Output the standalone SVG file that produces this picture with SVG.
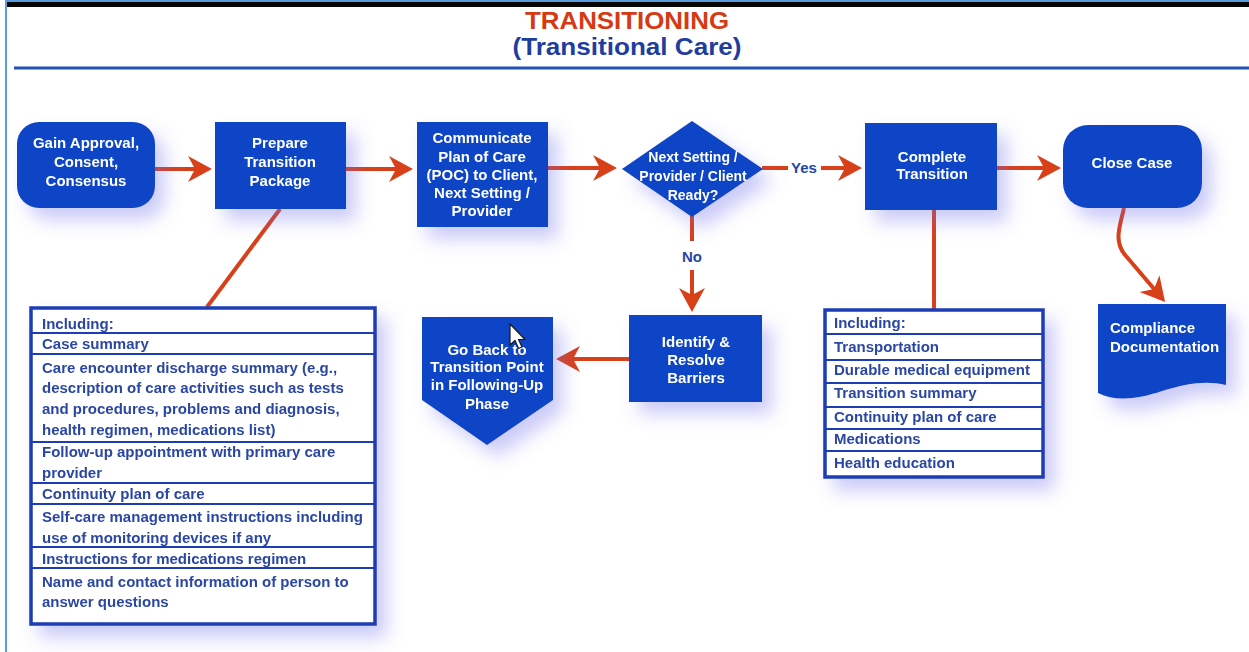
<svg xmlns="http://www.w3.org/2000/svg" width="1249" height="652" viewBox="0 0 1249 652">
  <defs>
    <style>
      .node { fill: #0d45c6; }
      .lbl { font-family: "Liberation Sans", Arial, sans-serif; font-weight: bold; font-size: 15px; fill: #ffffff; text-anchor: middle; }
      .dlbl { font-size: 14px; }
      .list-box { fill: #ffffff; stroke: #1a3db5; stroke-width: 3.5; }
      .sep { stroke: #1a3db5; stroke-width: 2; }
      .item { font-family: "Liberation Sans", Arial, sans-serif; font-weight: bold; font-size: 15px; fill: #2b46a3; }
      .wire { fill: none; stroke: #d8401a; stroke-width: 4; }
      .tag { font-family: "Liberation Sans", Arial, sans-serif; font-weight: bold; font-size: 15px; fill: #2545a8; text-anchor: middle; }
      .head { font-family: "Liberation Sans", Arial, sans-serif; font-weight: bold; text-anchor: middle; }
    </style>
    <filter id="glow" x="-30%" y="-30%" width="170%" height="180%">
      <feDropShadow dx="10" dy="12" stdDeviation="9" flood-color="#6b6bea" flood-opacity="0.35"/>
    </filter>
    <marker id="arr" viewBox="-16 -14 28 28" markerWidth="28" markerHeight="28" refX="0" refY="0" orient="auto" markerUnits="userSpaceOnUse">
      <path d="M10,0 L-14,-13 L-7,0 L-14,13 Z" fill="#d8401a"/>
    </marker>
  </defs>

  <!-- page frame -->
  <rect x="0" y="0" width="1249" height="652" fill="#ffffff"/>
  <rect x="6" y="1" width="1250" height="660" fill="none" stroke="#5b9be0" stroke-width="2"/>
  <rect x="7" y="2" width="1242" height="5" fill="#050505"/>
  <line x1="14" y1="68" x2="1249" y2="68" stroke="#2452b8" stroke-width="3"/>

  <!-- title -->
  <g id="title">
    <text class="head" x="627" y="29" font-size="24" fill="#d63a12" textLength="204" lengthAdjust="spacingAndGlyphs">TRANSITIONING</text>
    <text class="head" x="627" y="55" font-size="23" fill="#1f3d9e" textLength="229" lengthAdjust="spacingAndGlyphs">(Transitional Care)</text>
  </g>

  <!-- connectors -->
  <g id="connectors">
    <line class="wire" x1="155" y1="169" x2="202" y2="169" marker-end="url(#arr)"/>
    <line class="wire" x1="346" y1="169" x2="403" y2="169" marker-end="url(#arr)"/>
    <line class="wire" x1="548" y1="168" x2="607" y2="168" marker-end="url(#arr)"/>
    <line class="wire" x1="762" y1="168" x2="788" y2="168"/>
    <text class="tag" x="804" y="173">Yes</text>
    <line class="wire" x1="821" y1="168" x2="852" y2="168" marker-end="url(#arr)"/>
    <line class="wire" x1="692" y1="216" x2="692" y2="241"/>
    <text class="tag" x="692" y="262">No</text>
    <line class="wire" x1="692" y1="270" x2="692" y2="302" marker-end="url(#arr)"/>
    <line class="wire" x1="629" y1="359" x2="566" y2="359" marker-end="url(#arr)"/>
    <line class="wire" x1="997" y1="168" x2="1051" y2="168" marker-end="url(#arr)"/>
    <path class="wire" d="M1124,208 C1120,226 1113,242 1126,256 L1158.6,294.3" marker-end="url(#arr)"/>
    <line class="wire" x1="280" y1="209" x2="207" y2="307"/>
    <line class="wire" x1="934" y1="210" x2="934" y2="309"/>
  </g>

  <!-- process nodes -->
  <g id="gain-approval" filter="url(#glow)">
    <rect class="node" x="17" y="122" width="138" height="86" rx="22"/>
    <text class="lbl" x="86" y="148">Gain Approval,</text>
    <text class="lbl" x="86" y="167">Consent,</text>
    <text class="lbl" x="86" y="186">Consensus</text>
  </g>

  <g id="prepare-package" filter="url(#glow)">
    <rect class="node" x="215" y="122" width="131" height="87"/>
    <text class="lbl" x="280" y="148">Prepare</text>
    <text class="lbl" x="280" y="167">Transition</text>
    <text class="lbl" x="280" y="186">Package</text>
  </g>

  <g id="communicate-poc" filter="url(#glow)">
    <rect class="node" x="417" y="122" width="131" height="105"/>
    <text class="lbl" x="482" y="143">Communicate</text>
    <text class="lbl" x="482" y="162">Plan of Care</text>
    <text class="lbl" x="482" y="180">(POC) to Client,</text>
    <text class="lbl" x="482" y="198">Next Setting /</text>
    <text class="lbl" x="482" y="216">Provider</text>
  </g>

  <g id="ready-decision" filter="url(#glow)">
    <polygon class="node" points="692,121 763,169 692,217 622,169"/>
    <text class="lbl dlbl" x="693" y="162">Next Setting /</text>
    <text class="lbl dlbl" x="693" y="181">Provider / Client</text>
    <text class="lbl dlbl" x="693" y="200">Ready?</text>
  </g>

  <g id="complete-transition" filter="url(#glow)">
    <rect class="node" x="865" y="123" width="132" height="87"/>
    <text class="lbl" x="932" y="162">Complete</text>
    <text class="lbl" x="932" y="179">Transition</text>
  </g>

  <g id="close-case" filter="url(#glow)">
    <rect class="node" x="1063" y="125" width="139" height="83" rx="25"/>
    <text class="lbl" x="1132" y="168">Close Case</text>
  </g>

  <g id="identify-barriers" filter="url(#glow)">
    <rect class="node" x="629" y="315" width="133" height="87"/>
    <text class="lbl" x="696" y="347">Identify &amp;</text>
    <text class="lbl" x="696" y="365">Resolve</text>
    <text class="lbl" x="696" y="383">Barriers</text>
  </g>

  <g id="go-back" filter="url(#glow)">
    <polygon class="node" points="422,317 553,317 553,400 487,445 422,400"/>
    <text class="lbl" x="487" y="355">Go Back to</text>
    <text class="lbl" x="487" y="372">Transition Point</text>
    <text class="lbl" x="487" y="390">in Following-Up</text>
    <text class="lbl" x="487" y="409">Phase</text>
  </g>

  <g id="compliance-doc" filter="url(#glow)">
    <path class="node" d="M1098,304 H1226 V385 C1205,380 1185,384 1162,391 C1138,399 1116,402 1098,393 Z"/>
    <text class="lbl" x="1110" y="333" style="text-anchor:start">Compliance</text>
    <text class="lbl" x="1110" y="352" style="text-anchor:start">Documentation</text>
  </g>

  <!-- package contents -->
  <g id="package-contents" filter="url(#glow)">
    <rect class="list-box" x="31" y="308" width="344" height="316"/>
    <line class="sep" x1="31" y1="333" x2="375" y2="333"/>
    <line class="sep" x1="31" y1="354" x2="375" y2="354"/>
    <line class="sep" x1="31" y1="442" x2="375" y2="442"/>
    <line class="sep" x1="31" y1="483" x2="375" y2="483"/>
    <line class="sep" x1="31" y1="504" x2="375" y2="504"/>
    <line class="sep" x1="31" y1="547" x2="375" y2="547"/>
    <line class="sep" x1="31" y1="568" x2="375" y2="568"/>
    <text class="item" x="42" y="329">Including:</text>
    <text class="item" x="42" y="349">Case summary</text>
    <text class="item" x="42" y="373">Care encounter discharge summary (e.g.,</text>
    <text class="item" x="42" y="393">description of care activities such as tests</text>
    <text class="item" x="42" y="414">and procedures, problems and diagnosis,</text>
    <text class="item" x="42" y="435">health regimen, medications list)</text>
    <text class="item" x="42" y="457">Follow-up appointment with primary care</text>
    <text class="item" x="42" y="478">provider</text>
    <text class="item" x="42" y="499">Continuity plan of care</text>
    <text class="item" x="42" y="522">Self-care management instructions including</text>
    <text class="item" x="42" y="543">use of monitoring devices if any</text>
    <text class="item" x="42" y="564">Instructions for medications regimen</text>
    <text class="item" x="42" y="587">Name and contact information of person to</text>
    <text class="item" x="42" y="607">answer questions</text>
  </g>

  <!-- transition contents -->
  <g id="transition-contents" filter="url(#glow)">
    <rect class="list-box" x="825" y="310" width="218" height="167"/>
    <line class="sep" x1="825" y1="334" x2="1043" y2="334"/>
    <line class="sep" x1="825" y1="360" x2="1043" y2="360"/>
    <line class="sep" x1="825" y1="383" x2="1043" y2="383"/>
    <line class="sep" x1="825" y1="407" x2="1043" y2="407"/>
    <line class="sep" x1="825" y1="429" x2="1043" y2="429"/>
    <line class="sep" x1="825" y1="451" x2="1043" y2="451"/>
    <text class="item" x="834" y="328">Including:</text>
    <text class="item" x="834" y="352">Transportation</text>
    <text class="item" x="834" y="375">Durable medical equipment</text>
    <text class="item" x="834" y="398">Transition summary</text>
    <text class="item" x="834" y="422">Continuity plan of care</text>
    <text class="item" x="834" y="444">Medications</text>
    <text class="item" x="834" y="468">Health education</text>
  </g>

  <!-- mouse pointer -->
  <g id="pointer">
    <path d="M510,324 L510,345 L515,340.5 L518.5,348.5 L522,347 L518.5,339.5 L525,339.5 Z" fill="#ffffff" stroke="#1a1a1a" stroke-width="1.2" stroke-linejoin="round"/>
  </g>
</svg>
